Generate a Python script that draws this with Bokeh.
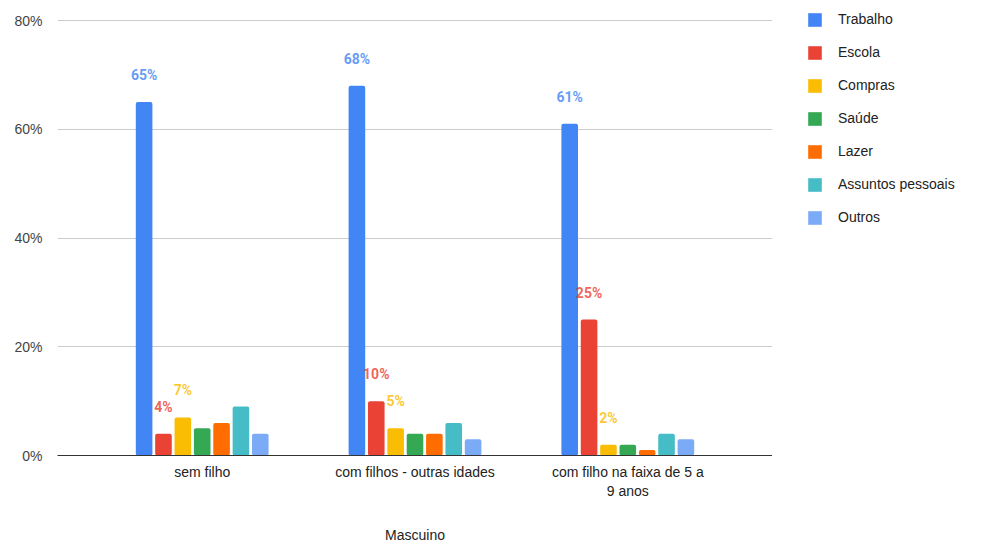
from bokeh.plotting import figure
from bokeh.layouts import row
from bokeh.models import Range1d, FixedTicker, PrintfTickFormatter, Legend, LegendItem, ColumnDataSource
from bokeh.core.properties import value
from bokeh.embed import file_html
from bokeh.resources import INLINE

categories = ["sem filho", "com filhos - outras idades", "com filho na faixa de 5 a\n9 anos"]
series = ["Trabalho", "Escola", "Compras", "Saúde", "Lazer", "Assuntos pessoais", "Outros"]
colors = ["#4285F4", "#EA4335", "#FBBC04", "#34A853", "#FF6D01", "#46BDC6", "#7BAAF7"]
values = {
    "Trabalho": [65, 68, 61],
    "Escola": [4, 10, 25],
    "Compras": [7, 5, 2],
    "Saúde": [5, 4, 2],
    "Lazer": [6, 4, 1],
    "Assuntos pessoais": [9, 6, 4],
    "Outros": [4, 3, 3],
}
labeled = ["Trabalho", "Escola", "Compras"]
y_ticks = [0, 20, 40, 60, 80]
x_title = "Mascuino"

FONT = "Liberation Sans"

# frame runs from the very top (0) to 455 px; the 80% line sits 20 px below the top
FRAME_H = 455
y_end = y_ticks[-1] * FRAME_H / (FRAME_H - 20)

p = figure(width=772, height=545, output_backend="svg", toolbar_location=None,
           x_range=Range1d(-0.68, 2.68), y_range=Range1d(0, y_end),
           min_border_left=57, min_border_right=0, min_border_top=0, min_border_bottom=90)
p.outline_line_color = None
p.background_fill_color = "white"

# legend-only panel on the right (its ranges keep the proxy bars out of view)
lg = figure(width=218, height=545, output_backend="svg", toolbar_location=None,
            x_range=Range1d(-100, -99), y_range=Range1d(-100, -99),
            x_axis_type=None, y_axis_type=None,
            min_border_left=0, min_border_right=0, min_border_top=0, min_border_bottom=90)
lg.outline_line_color = None
lg.xgrid.grid_line_color = None
lg.ygrid.grid_line_color = None

xs = list(range(len(categories)))
step = 0.091
width = 0.078
items = []
for i, s in enumerate(series):
    off = (i - (len(series) - 1) / 2) * step
    src = ColumnDataSource(dict(x=[x + off for x in xs], top=values[s],
                                lab=[f"{v}%" for v in values[s]]))
    p.vbar(x="x", top="top", width=width, bottom=0, source=src,
           fill_color=colors[i], line_color=None, border_radius=2)
    proxy = lg.vbar(x="x", top="top", width=width, bottom=0, source=src,
                    fill_color=colors[i], line_color=None, border_radius=2)
    items.append(LegendItem(label=s, renderers=[proxy]))
    if s in labeled:
        p.text(x="x", y="top", text="lab", source=src, y_offset=-27,
               text_align="center", text_baseline="middle",
               text_font=value("Roboto"), text_font_style="bold",
               text_font_size="14px", text_color=colors[i], text_alpha=0.82)

# axes
p.xaxis.ticker = FixedTicker(ticks=xs)
p.xaxis.major_label_overrides = {x: c for x, c in zip(xs, categories)}
p.xaxis.major_tick_line_color = None
p.xaxis.minor_tick_line_color = None
p.xaxis.axis_line_color = "#333333"
p.xaxis.axis_line_width = 1
p.xaxis.major_label_text_font = FONT
p.xaxis.major_label_text_font_size = "14px"
p.xaxis.major_label_text_color = "#222222"
p.xaxis.major_label_standoff = 2
p.xaxis.axis_label = x_title
p.xaxis.axis_label_text_font = FONT
p.xaxis.axis_label_text_font_size = "14px"
p.xaxis.axis_label_text_font_style = "normal"
p.xaxis.axis_label_text_color = "#222222"
p.xaxis.axis_label_standoff = 25

p.yaxis.ticker = FixedTicker(ticks=y_ticks)
p.yaxis.formatter = PrintfTickFormatter(format="%d%%")
p.yaxis.axis_line_color = None
p.yaxis.major_tick_line_color = None
p.yaxis.minor_tick_line_color = None
p.yaxis.major_label_text_font = FONT
p.yaxis.major_label_text_font_size = "14px"
p.yaxis.major_label_text_color = "#444444"
p.yaxis.major_label_standoff = 9

p.xgrid.grid_line_color = None
p.ygrid.ticker = FixedTicker(ticks=y_ticks[1:])
p.ygrid.grid_line_color = "#cccccc"

legend = Legend(items=items, location=(34, 228),
                label_text_font=FONT, label_text_font_size="14px", label_text_color="#222222",
                glyph_width=17, glyph_height=17, label_height=20, spacing=13,
                label_standoff=15, padding=0, margin=0,
                border_line_color=None, background_fill_alpha=0)
lg.add_layout(legend)

layout = row(p, lg, spacing=0)
open("out.html", "w").write(file_html(layout, INLINE))
